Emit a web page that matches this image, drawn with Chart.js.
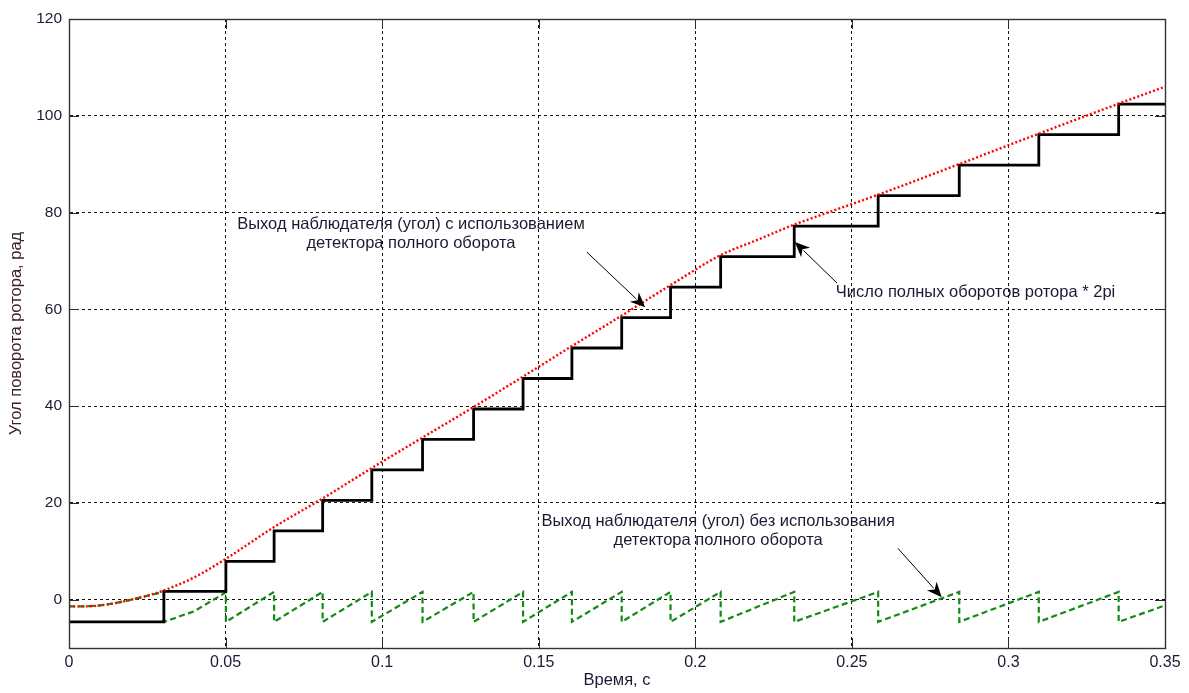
<!DOCTYPE html>
<html lang="ru">
<head>
<meta charset="utf-8">
<title>Угол поворота ротора</title>
<script src="https://cdn.jsdelivr.net/npm/chart.js@4/dist/chart.umd.min.js"></script>
<style>
  html, body { margin: 0; padding: 0; background: #ffffff; }
  canvas { display: block; }
</style>
</head>
<body>
<canvas id="rotor" width="1189" height="693"></canvas>
<script>
// Axis ranges and tick values
const xMin = 0, xMax = 0.35;
const yMin = -10, yMax = 120;
const xTicks = [0, 0.05, 0.1, 0.15, 0.2, 0.25, 0.3, 0.35];
const yTicks = [0, 20, 40, 60, 80, 100, 120];

// Observer output using the full-revolution detector (rad)
const redT = [0, 0.005, 0.01, 0.015, 0.02, 0.025, 0.0303, 0.04, 0.05, 0.0655, 0.081, 0.0967,
              0.1129, 0.1292, 0.145, 0.1606, 0.1765, 0.1921, 0.2081, 0.22, 0.2316, 0.245,
              0.2584, 0.2843, 0.3097, 0.3352, 0.35];
const redV = [-1.4, -1.4, -1.2, -0.7, 0.0, 0.8, 1.9, 4.6, 8.4, 15.0, 20.9, 27.2,
              33.5, 39.8, 46.1, 52.4, 58.7, 65.0, 71.2, 74.4, 77.5, 80.6,
              83.7, 90.0, 96.3, 102.5, 106.0];

// Number of full rotor revolutions * 2pi (step switch times and levels)
const stepT = [0, 0.0303, 0.0501, 0.0655, 0.081, 0.0967, 0.1129, 0.1292, 0.145, 0.1606,
               0.1765, 0.1921, 0.2081, 0.2316, 0.2584, 0.2843, 0.3097, 0.3352];
const stepV = [-4.6, 1.7, 7.9, 14.2, 20.5, 26.8, 33.1, 39.4, 45.7, 52.0,
               58.3, 64.6, 70.9, 77.2, 83.5, 89.8, 96.1, 102.4];

// Observer output without the full-revolution detector (rad)
const greenT = [0, 0.005, 0.01, 0.015, 0.02, 0.025, 0.0303, 0.0303, 0.04, 0.0501,
                0.0501, 0.0655, 0.0655, 0.081, 0.081, 0.0967, 0.0967, 0.1129, 0.1129, 0.1292,
                0.1292, 0.145, 0.145, 0.1606, 0.1606, 0.1765, 0.1765, 0.1921, 0.1921, 0.2081,
                0.2081, 0.2316, 0.2316, 0.2584, 0.2584, 0.2843, 0.2843, 0.3097, 0.3097, 0.3352,
                0.3352, 0.35];
const greenV = [-1.4, -1.4, -1.2, -0.7, 0.0, 0.8, 1.6, -4.6, -2.4, 1.5,
                -4.6, 1.6, -4.6, 1.6, -4.6, 1.6, -4.6, 1.6, -4.6, 1.6,
                -4.6, 1.6, -4.6, 1.6, -4.6, 1.6, -4.6, 1.6, -4.6, 1.6,
                -4.6, 1.6, -4.6, 1.6, -4.6, 1.6, -4.6, 1.6, -4.6, 1.6,
                -4.6, -1.2];

// Callout texts with their anchor points in data units
const notes = [
  { lines: ['Выход наблюдателя (угол) с использованием', 'детектора полного оборота'],
    x: 0.1092, y: 77.6, from: [0.1654, 71.8], to: [0.184, 60.4] },
  { lines: ['Число полных оборотов ротора * 2pi'],
    x: 0.2895, y: 63.5, from: [0.2453, 65.4], to: [0.2318, 73.9] },
  { lines: ['Выход наблюдателя (угол) без использования', 'детектора полного оборота'],
    x: 0.2073, y: 16.1, from: [0.2647, 10.6], to: [0.2787, 0.5] }
];

const pairs = (xs, ys) => xs.map((x, i) => ({ x: x, y: ys[i] }));
const stepData = pairs(stepT, stepV).concat([{ x: xMax, y: stepV[stepV.length - 1] }]);

const FONT = '"Liberation Sans", Arial, sans-serif';
const TEXT = '#1a1a34';

// Axes box, inward tick marks and callouts
const framePlugin = {
  id: 'frame',
  afterDatasetsDraw(chart) {
    const { ctx, chartArea: a, scales } = chart;
    const xs = scales.x, ys = scales.y;
    ctx.save();
    ctx.strokeStyle = '#2a2a2a';
    ctx.lineWidth = 1;
    ctx.setLineDash([]);
    ctx.beginPath();
    const tl = 10;
    xTicks.forEach(v => {
      const px = Math.round(xs.getPixelForValue(v)) + 0.5;
      ctx.moveTo(px, a.bottom); ctx.lineTo(px, a.bottom - tl);
      ctx.moveTo(px, a.top); ctx.lineTo(px, a.top + tl);
    });
    yTicks.forEach(v => {
      const py = Math.round(ys.getPixelForValue(v)) + 0.5;
      ctx.moveTo(a.left, py); ctx.lineTo(a.left + tl, py);
      ctx.moveTo(a.right, py); ctx.lineTo(a.right - tl, py);
    });
    ctx.stroke();
    ctx.lineWidth = 1.4;
    ctx.strokeStyle = '#333333';
    ctx.strokeRect(Math.round(a.left) + 0.5, Math.round(a.top) + 0.5,
                   Math.round(a.right - a.left), Math.round(a.bottom - a.top));
    ctx.restore();
  },
  afterDraw(chart) {
    const { ctx, scales } = chart;
    const xs = scales.x, ys = scales.y;
    ctx.save();
    ctx.font = '16.5px ' + FONT;
    ctx.fillStyle = TEXT;
    ctx.textAlign = 'center';
    ctx.textBaseline = 'middle';
    notes.forEach(n => {
      const cx = xs.getPixelForValue(n.x);
      const cy = ys.getPixelForValue(n.y);
      n.lines.forEach((s, i) => ctx.fillText(s, cx, cy + i * 19));
      const x0 = xs.getPixelForValue(n.from[0]), y0 = ys.getPixelForValue(n.from[1]);
      const x1 = xs.getPixelForValue(n.to[0]), y1 = ys.getPixelForValue(n.to[1]);
      const ang = Math.atan2(y1 - y0, x1 - x0);
      const hl = 15, hw = 6.5;
      ctx.strokeStyle = '#000';
      ctx.lineWidth = 1;
      ctx.beginPath();
      ctx.moveTo(x0, y0);
      ctx.lineTo(x1 - Math.cos(ang) * hl * 0.8, y1 - Math.sin(ang) * hl * 0.8);
      ctx.stroke();
      ctx.fillStyle = '#000';
      ctx.beginPath();
      ctx.moveTo(x1, y1);
      ctx.lineTo(x1 - Math.cos(ang) * hl - Math.sin(ang) * hw, y1 - Math.sin(ang) * hl + Math.cos(ang) * hw);
      ctx.lineTo(x1 - Math.cos(ang) * hl * 0.7, y1 - Math.sin(ang) * hl * 0.7);
      ctx.lineTo(x1 - Math.cos(ang) * hl + Math.sin(ang) * hw, y1 - Math.sin(ang) * hl - Math.cos(ang) * hw);
      ctx.closePath();
      ctx.fill();
      ctx.fillStyle = TEXT;
    });
    ctx.restore();
  }
};

new Chart(document.getElementById('rotor'), {
  type: 'line',
  data: {
    datasets: [
      {
        label: 'Без детектора полного оборота',
        data: pairs(greenT, greenV),
        borderColor: '#138a13',
        borderWidth: 2.2,
        borderDash: [6, 3.5],
        pointRadius: 0,
        tension: 0,
        order: 3
      },
      {
        label: 'Число полных оборотов ротора * 2pi',
        data: stepData,
        borderColor: '#000000',
        borderWidth: 2.8,
        stepped: 'before',
        pointRadius: 0,
        order: 2
      },
      {
        label: 'С детектором полного оборота',
        data: pairs(redT, redV),
        borderColor: '#ff0000',
        borderWidth: 2.4,
        borderDash: [2, 2.2],
        cubicInterpolationMode: 'monotone',
        pointRadius: 0,
        order: 1
      }
    ]
  },
  options: {
    responsive: false,
    animation: false,
    devicePixelRatio: 1,
    parsing: true,
    layout: { padding: { top: 19, right: 24, left: 0, bottom: 0 } },
    plugins: { legend: { display: false }, tooltip: { enabled: false } },
    scales: {
      x: {
        type: 'linear',
        min: xMin, max: xMax,
        afterBuildTicks: s => { s.ticks = xTicks.map(v => ({ value: v })); },
        afterFit: s => { s.height = 45; },
        ticks: {
          padding: 5,
          color: TEXT,
          font: { family: FONT, size: 16 },
          maxRotation: 0,
          callback: v => String(Math.round(v * 100) / 100)
        },
        grid: { color: '#111111', lineWidth: 1, drawTicks: false },
        border: { display: true, color: '#333333', width: 1, dash: [3, 3] },
        title: {
          display: true,
          text: 'Время, с',
          color: TEXT,
          font: { family: FONT, size: 16.5 },
          padding: { top: 0, bottom: 3 }
        }
      },
      y: {
        type: 'linear',
        min: yMin, max: yMax,
        afterBuildTicks: s => { s.ticks = yTicks.map(v => ({ value: v })); },
        afterFit: s => { s.width = 69; },
        ticks: {
          padding: 7,
          color: TEXT,
          font: { family: FONT, size: 15.5 }
        },
        grid: { color: '#111111', lineWidth: 1, drawTicks: false },
        border: { display: true, color: '#333333', width: 1, dash: [3, 3] },
        title: {
          display: true,
          text: 'Угол поворота ротора, рад',
          color: '#3a2424',
          font: { family: FONT, size: 16.5 },
          padding: { top: 7, bottom: 0 }
        }
      }
    }
  },
  plugins: [framePlugin]
});
</script>
</body>
</html>
